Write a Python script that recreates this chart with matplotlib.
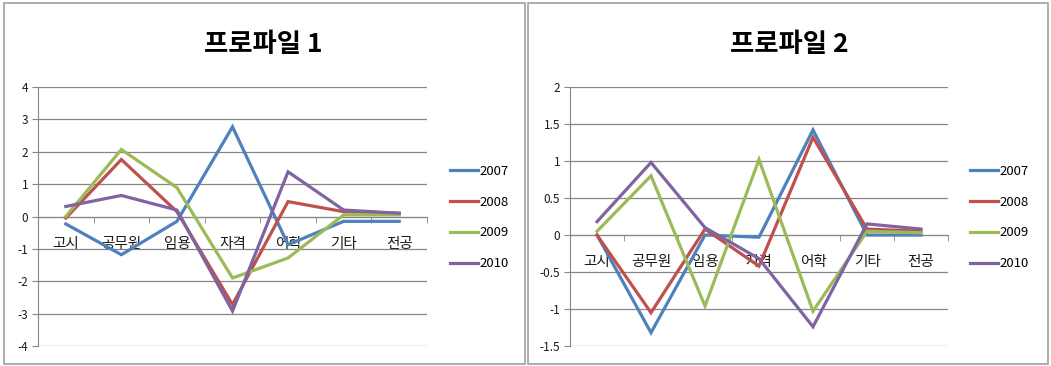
import matplotlib
matplotlib.use("Agg")
import matplotlib.pyplot as plt
from matplotlib.patches import Rectangle
from matplotlib.ticker import FuncFormatter, FixedLocator

plt.rcParams['font.family'] = ['Noto Sans CJK KR', 'DejaVu Sans']
plt.rcParams['axes.unicode_minus'] = False

categories = ['고시', '공무원', '임용', '자격', '어학', '기타', '전공']
years = ['2007', '2008', '2009', '2010']
colors = ['#4F81BD', '#C0504D', '#9BBB59', '#8064A2']

p1_2007 = [-0.23, -1.18, -0.15, 2.77, -0.87, -0.15, -0.15]
p1_2008 = [-0.05, 1.76, 0.15, -2.72, 0.46, 0.15, 0.10]
p1_2009 = [0.00, 2.07, 0.89, -1.90, -1.28, 0.05, 0.05]
p1_2010 = [0.31, 0.65, 0.20, -2.92, 1.38, 0.20, 0.10]

p2_2007 = [0.00, -1.32, 0.00, -0.03, 1.42, 0.00, 0.00]
p2_2008 = [0.00, -1.05, 0.08, -0.42, 1.32, 0.08, 0.05]
p2_2009 = [0.05, 0.80, -0.96, 1.02, -1.03, 0.05, 0.03]
p2_2010 = [0.18, 0.98, 0.10, -0.32, -1.24, 0.15, 0.08]

titles = ['프로파일 1', '프로파일 2']
ylims = [(-4, 4), (-1.5, 2)]
ysteps = [1, 0.5]

W, H = 1051, 366
fig = plt.figure(figsize=(W / 100, H / 100), dpi=100)

def fx(px):
    return px / W

def fy(py):
    return 1 - py / H

# panel borders
for (x0, y0, x1, y1) in [(4, 3, 525, 364), (528, 3, 1048, 364)]:
    fig.patches.append(Rectangle((fx(x0), fy(y1)), fx(x1 - x0), (y1 - y0) / H,
                                 transform=fig.transFigure, fill=False,
                                 edgecolor='#A0A0A0', linewidth=1.2))

panels = [
    dict(data=[p1_2007, p1_2008, p1_2009, p1_2010], ax=(38, 87, 427, 346), title_x=263, leg_x=450),
    dict(data=[p2_2007, p2_2008, p2_2009, p2_2010], ax=(570, 87, 948, 346), title_x=789, leg_x=970),
]

for i, p in enumerate(panels):
    x0, y0, x1, y1 = p['ax']
    ax = fig.add_axes([fx(x0), fy(y1), fx(x1 - x0), (y1 - y0) / H])
    xs = list(range(len(categories)))
    for series, yr, c in zip(p['data'], years, colors):
        ax.plot(xs, series, color=c, linewidth=2.3, label=yr, solid_joinstyle='miter', zorder=3)
    lo, hi = ylims[i]
    ax.set_ylim(lo, hi)
    ax.set_xlim(-0.5, len(categories) - 0.5)
    step = ysteps[i]
    n = int(round((hi - lo) / step))
    yt = [lo + k * step for k in range(n + 1)]
    ax.set_yticks(yt)
    ax.yaxis.set_major_formatter(FuncFormatter(lambda v, pos: '{:g}'.format(v)))
    ax.grid(axis='y', color='#868686', linewidth=0.9, zorder=0)
    for s in ['top', 'right']:
        ax.spines[s].set_visible(False)
    ax.spines['left'].set_color('#868686')
    ax.spines['bottom'].set_color('#868686')
    ax.spines['bottom'].set_position(('data', 0))
    ax.spines['bottom'].set_zorder(1)
    ax.set_xticks(xs)
    ax.set_xticklabels(categories, fontsize=10.5, color='#1a1a1a')
    ax.tick_params(axis='x', which='major', length=0, pad=14.5)
    ax.xaxis.set_minor_locator(FixedLocator([k - 0.5 for k in range(len(categories) + 1)]))
    ax.tick_params(axis='x', which='minor', length=4, direction='out', color='#868686')
    ax.tick_params(axis='y', length=4, color='#868686', labelsize=8.5, labelcolor='#1a1a1a', pad=3)
    ax.set_facecolor('none')
    fig.text(fx(p['title_x']), fy(45), titles[i], ha='center', va='center',
             fontsize=19, fontweight='bold', color='black')
    ax.legend(loc='center left', bbox_to_anchor=(fx(p['leg_x']), fy(217.5)),
              bbox_transform=fig.transFigure, frameon=False, fontsize=9.5,
              handlelength=2.1, handletextpad=0.15, borderpad=0, borderaxespad=0,
              labelspacing=1.35)

fig.savefig('out.png', dpi=100)
